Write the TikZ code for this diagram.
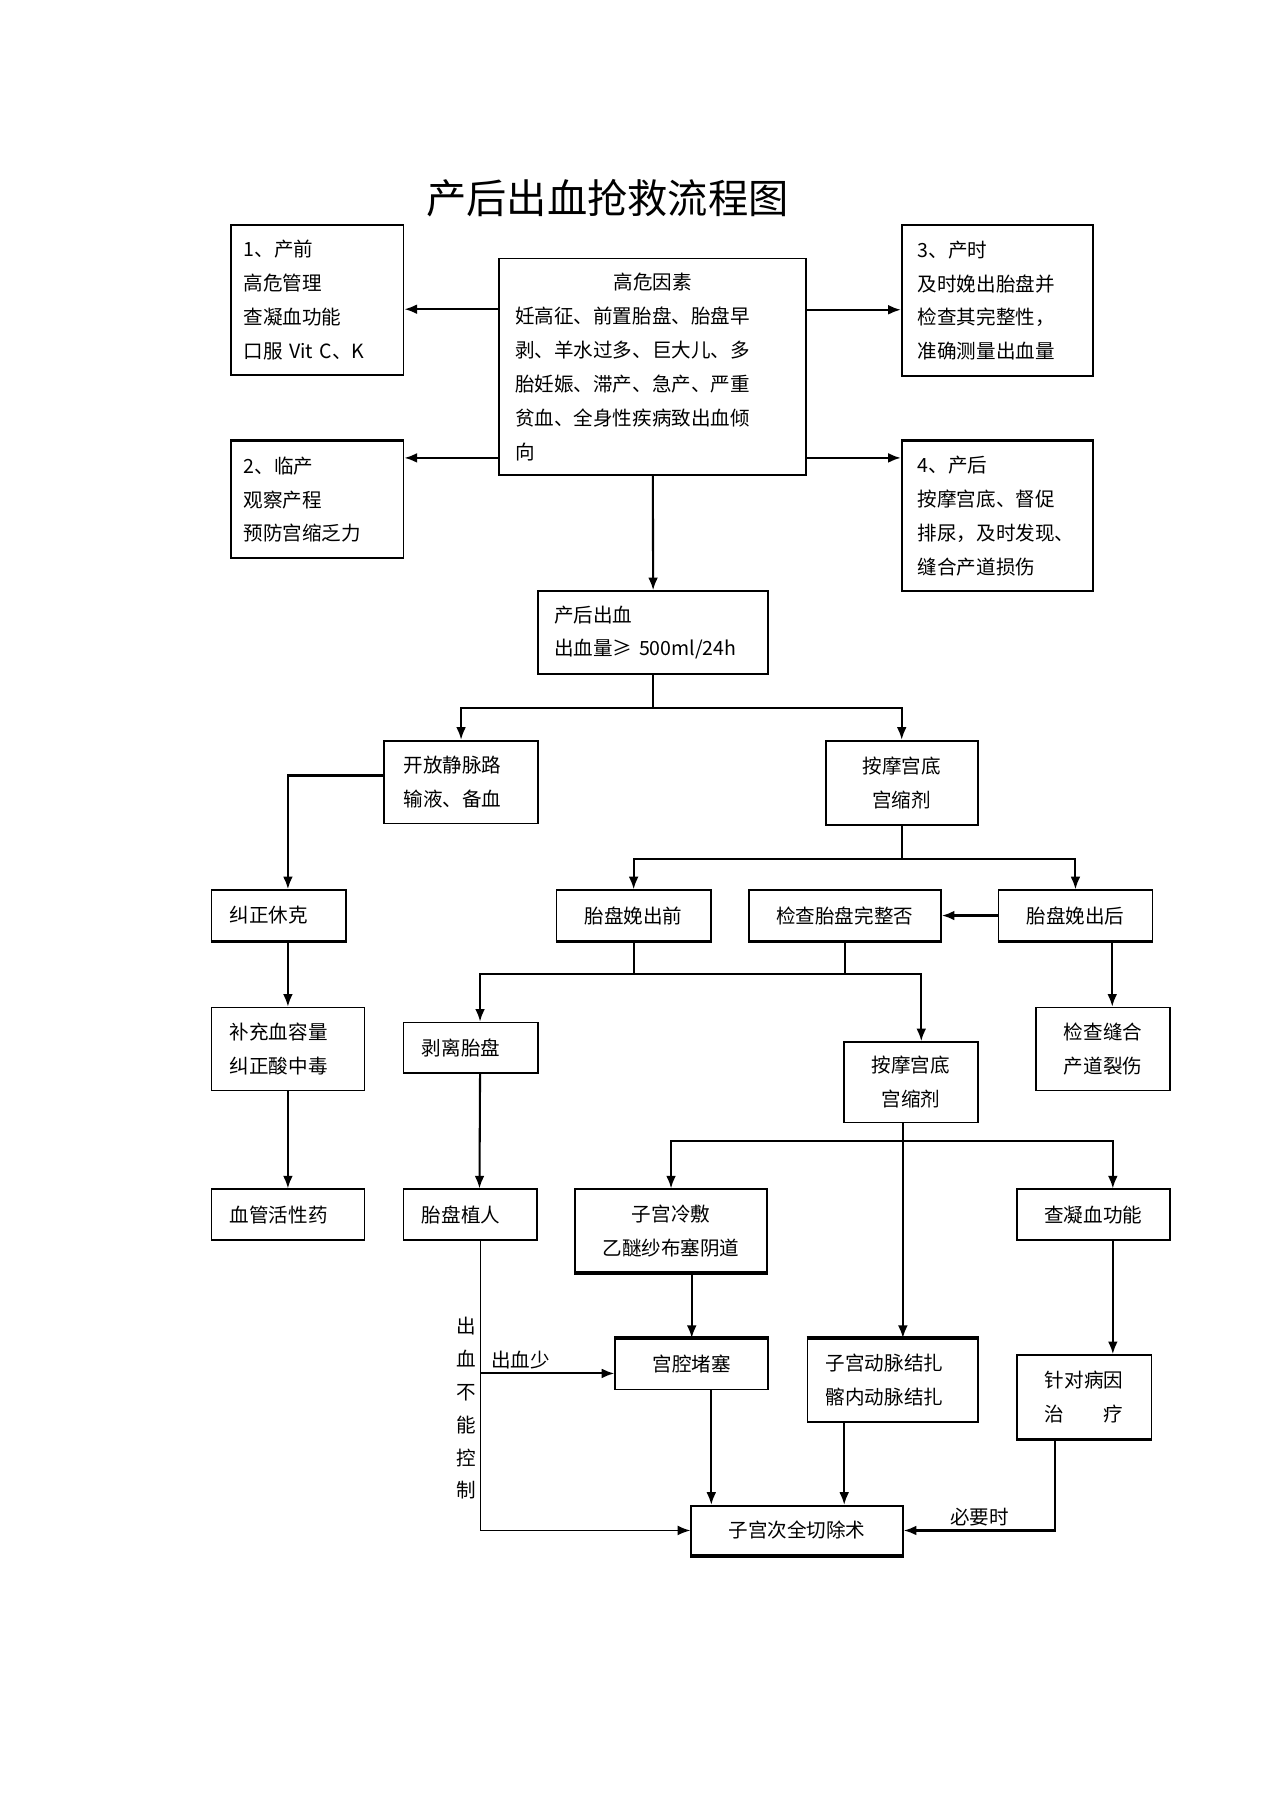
\documentclass[tikz,border=0pt]{standalone}
\usepackage{fontspec}
\setmainfont{Noto Sans CJK SC}
\usetikzlibrary{arrows.meta,positioning,calc}

\newcommand{\bodysize}{\fontsize{17}{29.5}\selectfont}

\begin{document}
\begin{tikzpicture}[
    x=1pt, y=-1pt,
    >={Latex[length=11pt,width=8.5pt]},
    line width=1.5pt,
    % 方框样式:lbox 文字靠左, cbox 文字居中
    box/.style={draw, anchor=north west, inner sep=0pt, font=\bodysize},
    lbox/.style={box, align=left, inner xsep=16pt},
    cbox/.style={box, align=center},
    % 扫描稿里有些框的上/下边较粗
    thickbot/.style={append after command={(\tikzlastnode.south west) edge[line width=2.8pt] (\tikzlastnode.south east)}},
    thicktop/.style={append after command={(\tikzlastnode.north west) edge[line width=2.8pt] (\tikzlastnode.north east)}},
    link/.style={->, line width=1.8pt}
]
\useasboundingbox (0,0) rectangle (1107,1568);

% --- 1. 标题 ---
\node[font=\fontsize{35}{35}\selectfont] (title) at (528,172) {产后出血抢救流程图};

% --- 2. 高危因素与四个阶段 ---
\node[lbox, inner xsep=14pt, text width=239pt, minimum height=188pt] (risk) at (433,224)
    {\makebox[239pt]{高危因素}\\妊高征、前置胎盘、胎盘早\\剥、羊水过多、巨大儿、多\\胎妊娠、滞产、急产、严重\\贫血、全身性疾病致出血倾\\向};
\node[lbox, inner xsep=11pt, text width=128pt, minimum height=130pt] (prenatal) at (200,195)
    {1、产前\\高危管理\\查凝血功能\\口服 Vit C、K};
\node[lbox, thicktop, inner xsep=11pt, text width=128pt, minimum height=101pt] (labour) at (200,383)
    {2、临产\\观察产程\\预防宫缩乏力};
\node[lbox, inner xsep=14pt, text width=138pt, minimum height=131pt] (intrapartum) at (783,195)
    {3、产时\\及时娩出胎盘并\\检查其完整性，\\准确测量出血量};
\node[lbox, thicktop, inner xsep=14pt, text width=138pt, minimum height=130pt] (postpartum) at (783,383)
    {4、产后\\按摩宫底、督促\\排尿，及时发现、\\缝合产道损伤};

\coordinate (to_prenatal) at ([yshift=-8pt]prenatal.east);
\coordinate (to_labour) at ([yshift=-15pt]labour.north east);
\coordinate (to_intra) at ([yshift=-8pt]intrapartum.west);
\coordinate (to_post) at ([yshift=-15pt]postpartum.north west);
\draw[link] (risk.west |- to_prenatal) -- (to_prenatal);
\draw[link] (risk.west |- to_labour) -- (to_labour);
\draw[link] (risk.east |- to_intra) -- (to_intra);
\draw[link] (risk.east |- to_post) -- (to_post);

% --- 3. 产后出血 ---
\node[lbox, inner xsep=14pt, text width=172pt, minimum height=72pt] (pph) at (467,513)
    {产后出血\\出血量≥ 500ml/24h};
\draw[link] (risk) -- (pph);

\node[lbox, inner xsep=17pt, text width=100pt, minimum height=72pt] (iv_line) at (333,643) {开放静脉路\\输液、备血};
\node[cbox, minimum width=132pt, minimum height=73pt] (massage_a) at (717,643) {按摩宫底\\宫缩剂};

\coordinate (split_a) at ([yshift=-29pt]pph.south);
\draw (pph) -- (split_a);
\draw[link] (split_a) -| (iv_line);
\draw[link] (split_a) -| (massage_a);

% --- 4. 左列:抗休克 ---
\node[lbox, thickbot, text width=85pt, minimum height=44pt] (shock) at (183,773) {纠正休克};
\node[lbox, text width=101pt, minimum height=72pt] (volume) at (183,875) {补充血容量\\纠正酸中毒};
\node[lbox, text width=101pt, minimum height=44pt] (vaso) at (183,1033) {血管活性药};

\draw[link, line width=2.4pt] ([yshift=6pt]iv_line.west) -| (shock.north -| volume.north);
\draw[link] (shock.south -| volume.north) -- (volume);
\draw[link] (volume) -- (vaso);

% --- 5. 胎盘娩出前 / 后 ---
\node[cbox, thickbot, minimum width=134pt, minimum height=44pt] (before_birth) at (483,773) {胎盘娩出前};
\node[cbox, thickbot, minimum width=167pt, minimum height=44pt] (check_placenta) at (650,773) {检查胎盘完整否};
\node[cbox, thickbot, minimum width=134pt, minimum height=44pt] (after_birth) at (867,773) {胎盘娩出后};

\coordinate (split_b) at ([yshift=-29pt]massage_a.south);
\draw (massage_a) -- (split_b);
\draw[link] (split_b) -| (before_birth);
\draw[link] (split_b) -| (after_birth);
\draw[link, line width=2.4pt] (after_birth) -- (check_placenta);

\node[lbox, text width=85pt, minimum height=44pt] (detach) at (350,888) {剥离胎盘};
\node[cbox, minimum width=116pt, minimum height=70pt] (massage_b) at (733,905) {按摩宫底\\宫缩剂};
\node[cbox, minimum width=116pt, minimum height=72pt] (suture) at (900,875) {检查缝合\\产道裂伤};

\coordinate (split_c) at ([yshift=-28pt]before_birth.south);
\draw (before_birth) -- (split_c);
\draw (check_placenta) -- (check_placenta.south |- split_c);
\draw[link] (split_c) -| ([xshift=8pt]detach.north);
\draw[link] (split_c) -| ([xshift=9pt]massage_b.north);
\draw[link] ([xshift=32pt]after_birth.south) -- ([xshift=32pt]after_birth.south |- suture.north);

% --- 6. 止血措施 ---
\node[lbox, text width=84pt, minimum height=44pt] (accreta) at (350,1033) {胎盘植人};
\node[cbox, thickbot, minimum width=167pt, minimum height=72pt] (cold_pack) at (499,1033) {子宫冷敷\\乙醚纱布塞阴道};
\node[cbox, minimum width=133pt, minimum height=44pt] (coag) at (883,1033) {查凝血功能};
\draw[link] ([xshift=8pt]detach.south) -- ([xshift=8pt]accreta.north);

\coordinate (m_out) at ([xshift=-7pt]massage_b.south);
\coordinate (split_d) at ([yshift=-15pt]m_out);
\draw[link] (split_d) -| (cold_pack);
\draw[link] (split_d) -| ([xshift=17pt]coag.north);

\node[cbox, thicktop, minimum width=133pt, minimum height=44pt] (tamponade) at (534,1163) {宫腔堵塞};
\node[lbox, thicktop, text width=116pt, minimum height=72pt] (ligation) at (701,1163) {子宫动脉结扎\\髂内动脉结扎};
\node[cbox, thickbot, minimum width=117pt, minimum height=73pt] (cause) at (883,1177) {针对病因\\治\hspace{2em}疗};
\draw[link] (m_out) -- (m_out |- ligation.north);
\draw[link] (tamponade.north |- cold_pack.south) -- (tamponade);
\draw[link] ([xshift=17pt]coag.south) -- ([xshift=17pt]coag.south |- cause.north);

% --- 7. 子宫次全切除术 ---
\node[cbox, thickbot, minimum width=184pt, minimum height=43pt] (hysterectomy) at (600,1308) {子宫次全切除术};

\coordinate (to_tamponade) at ([yshift=-8pt]tamponade.west);
\draw[link, line width=1.2pt] ([xshift=9pt]accreta.south) |- (hysterectomy.west);
\draw[link] ([xshift=9pt]accreta.south |- to_tamponade) -- node[above, pos=0.3, font=\bodysize] (less_bleed) {出血少} (to_tamponade);
\node[font=\fontsize{17}{28.6}\selectfont, align=center] (no_control) at (405,1224) {出\\血\\不\\能\\控\\制};

\draw[link] ([xshift=17pt]tamponade.south) -- ([xshift=17pt]tamponade.south |- hysterectomy.north);
\draw[link] ([xshift=-42pt]ligation.south) -- ([xshift=-42pt]ligation.south |- hysterectomy.north);
\draw[link] ([xshift=-25pt]cause.south) |- node[pos=0.75, above, font=\bodysize] (if_needed) {必要时} (hysterectomy.east);

\end{tikzpicture}
\end{document}
